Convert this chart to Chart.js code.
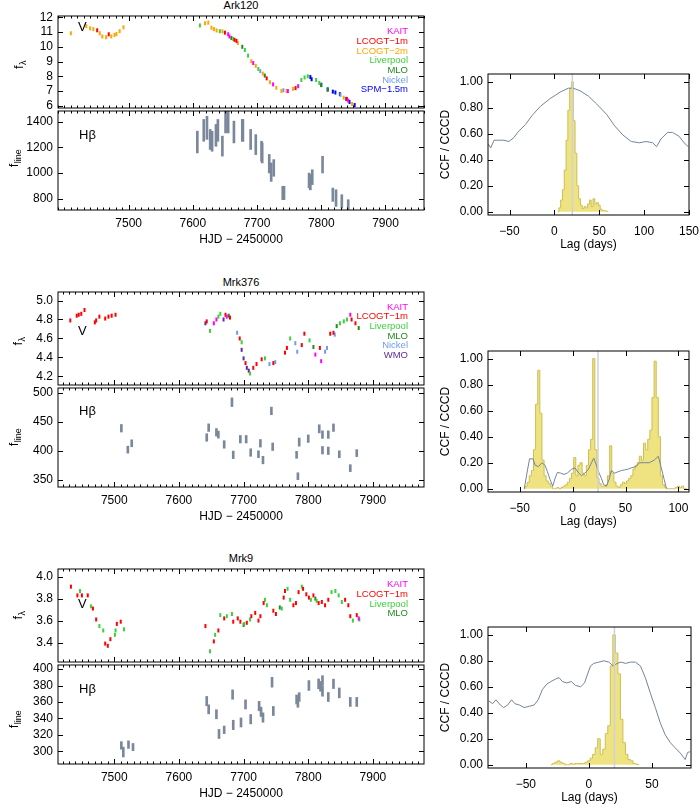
<!DOCTYPE html>
<html>
<head>
<meta charset="utf-8">
<script src="https://cdn.jsdelivr.net/npm/chart.js@4.4.0/dist/chart.umd.min.js"></script>
<style>
  body { margin: 0; background: #fff; width: 700px; height: 806px; position: relative; overflow: hidden;
         font-family: "Liberation Sans", Arial, Helvetica, sans-serif; }
  canvas { position: absolute; }
  .ttl { position: absolute; font-size: 11px; line-height: 1; transform: translate(-50%, -50%); white-space: nowrap; }
</style>
</head>
<body>
<div class="ttl" style="left:241px;top:5px">Ark120</div>
<div class="ttl" style="left:241px;top:282px">Mrk376</div>
<div class="ttl" style="left:241px;top:558px">Mrk9</div>
<canvas id="lc1"></canvas><canvas id="hb1"></canvas><canvas id="ccf1"></canvas>
<canvas id="lc2"></canvas><canvas id="hb2"></canvas><canvas id="ccf2"></canvas>
<canvas id="lc3"></canvas><canvas id="hb3"></canvas><canvas id="ccf3"></canvas>
<script>
// ---- Ark120 V-band continuum, [HJD-2450000, flux] per telescope
const ark120Kait = [[7655,10.85],[7657,10.70],[7694,8.90],[7725,7.45],[7748,7.00],[7764,7.33],[7842,6.35]];
const ark120Lcogt1 = [[7451,11.12],[7469,10.85],[7650,10.96],[7665,10.47],[7668,10.40],[7715,7.86],[7760,7.20],[7840,6.45]];
const ark120Lcogt2 = [[7410,10.92],[7434,11.40],[7440,11.25],[7445,11.20],[7455,10.92],[7459,10.70],[7465,10.65],[7473,10.70],
  [7478,10.80],[7481,10.87],[7486,11.06],[7492,11.32],[7619,11.60],[7624,11.64],[7629,11.30],[7633,11.20],[7637,11.11],
  [7646,11.05],[7670,10.25],[7691,9.03],[7698,8.71],[7709,8.18],[7720,7.60],[7730,7.22],[7738,7.01],[7746,7.00],[7756,7.15],
  [7835,6.55],[7848,6.12]];
const ark120Liverpool = [[7611,11.45],[7642,11.06],[7663,10.53],[7681,9.78],[7686,9.40],[7702,8.50],[7769,7.75],[7774,7.92],
  [7779,8.00],[7792,7.75],[7797,7.55]];
const ark120Mlo = [[7660,10.60],[7677,10.00],[7712,8.05],[7800,7.40],[7810,7.10]];
const ark120Nickel = [[7705,8.35],[7741,7.05],[7830,6.75]];
const ark120Spm = [[7783,7.95],[7785,7.80],[7800,7.43],[7810,7.11],[7818,6.96],[7822,6.90],[7829,6.79],[7839,6.47],[7844,6.26],[7852,6.05]];
// Hbeta line flux, [HJD-2450000, flux, error]
const ark120Hb = [[7607,1242,85],[7617,1333,85],[7622,1353,90],[7627,1262,78],[7630,1248,78],[7636,1294,85],[7639,1333,85],
  [7646,1210,78],[7651,1398,85],[7655,1398,85],[7664,1320,85],[7677,1333,85],[7678,1333,85],[7690,1262,78],[7698,1222,78],
  [7707,1170,78],[7708,1157,78],[7719,1073,72],[7722,1007,72],[7726,1040,65],[7740,845,52],[7742,845,52],[7781,942,58],
  [7783,929,60],[7786,968,58],[7802,1066,65],[7818,831,52],[7823,805,65],[7832,779,52],[7842,746,46]];
const ark120Lag = [-73.5,-71,-67.3,-61.8,-56.2,-50.7,-45.2,-39.7,-32.3,-24.9,-15.7,-4.7,6.4,15.6,21.1,28.5,37.7,46.9,58,
  67.2,76.3,85.6,94.8,102.2,109.5,113.9,118.8,126.1,131.6,139,144.5,149.3];
const ark120Ccf = [0.52,0.49,0.55,0.55,0.55,0.54,0.57,0.62,0.67,0.74,0.81,0.87,0.92,0.95,0.95,0.93,0.89,0.83,0.75,0.66,
  0.59,0.54,0.53,0.54,0.53,0.50,0.56,0.61,0.61,0.58,0.53,0.50];
const ark120Bins = [6,8,10,12,14,16,18,20,22,24,26,28,30,32,34,36,38,40,42,44,46,48,50,52,54,56,58];
const ark120Cccd = [0.03,0.09,0.17,0.32,0.55,0.78,0.95,1.00,0.70,0.45,0.20,0.10,0.05,0.025,0.04,0.03,0.06,0.09,0.04,0.10,
  0.06,0.07,0.05,0.02,0.01,0.008,0.005];
const ark120Median = 20;

// ---- Mrk376
const mrk376Kait = [[7654,4.76],[7658,4.80],[7674,4.83],[7811,4.43],[7820,4.36],[7865,4.85]];
const mrk376Lcogt1 = [[7432,4.79],[7442,4.84],[7445,4.85],[7449,4.86],[7454,4.90],[7470,4.77],[7472,4.79],[7477,4.83],
  [7486,4.81],[7491,4.83],[7496,4.84],[7502,4.85],[7643,4.78],[7672,4.85],[7679,4.82],[7694,4.60],[7703,4.34],[7715,4.29],
  [7720,4.33],[7728,4.38],[7746,4.34],[7764,4.45],[7767,4.50],[7790,4.53],[7794,4.65],[7818,4.50],[7834,4.65],[7839,4.66],
  [7867,4.80],[7873,4.76]];
const mrk376Liverpool = [[7648,4.68],[7661,4.83],[7664,4.86],[7697,4.56],[7710,4.23],[7733,4.39],[7772,4.60],[7802,4.58],
  [7849,4.76],[7855,4.78],[7860,4.80]];
const mrk376Mlo = [[7677,4.84],[7808,4.51],[7844,4.73],[7878,4.71]];
const mrk376Nickel = [[7690,4.66],[7740,4.33],[7749,4.35],[7780,4.55],[7783,4.46],[7826,4.46],[7829,4.50],[7841,4.64]];
const mrk376Wmo = [[7641,4.76],[7669,4.80],[7697,4.48],[7700,4.39],[7705,4.29],[7708,4.26]];
const mrk376Hb = [[7511,439,6.5],[7521,402,6],[7527,413,6],[7643,423,6.5],[7646,440,6.5],[7658,432,6.5],[7661,428,6],
  [7670,411,6.5],[7682,484,7.5],[7684,393,6.5],[7695,420,6.5],[7704,420,6.5],[7711,397,6.5],[7723,394,6],[7726,413,6.5],
  [7730,384,6.5],[7743,469,6.5],[7745,407,6.5],[7782,393,6],[7784,356,6],[7786,415,7],[7800,421,6.5],[7817,438,7],
  [7822,428,6.5],[7822,401,6.5],[7831,428,6.5],[7831,400,6.5],[7839,440,6.5],[7848,394,6],[7865,370,6],[7875,396,6]];
const mrk376Lag = [-45.7,-43.2,-40.7,-37.5,-35.4,-32.2,-29.1,-26,-23.8,-21.3,-18.8,-16.6,-14.4,-11.3,-8.2,-5.1,-0.9,2.2,
  5.3,8.4,11.5,14.7,17.8,20,22.5,25,27.2,29.4,31.9,34.4,36.6,39.7,42.8,46,49.1,52.2,55.3,60,63.1,67.8,72.5,77.2,81,83.5,86.6,88.7];
const mrk376Ccf = [0,0.12,0.23,0.23,0.18,0.17,0.20,0.18,0.13,0.07,0.02,0.08,0.125,0.12,0.11,0.12,0.15,0.16,0.125,0.10,
  0.12,0.145,0.20,0.235,0.18,0.12,0.08,0.03,0.02,0.07,0.14,0.12,0.13,0.14,0.145,0.15,0.16,0.17,0.20,0.20,0.20,0.22,0.25,0.17,0.07,0];
const mrk376Bins = [-44,-42,-40,-38,-36,-34,-32,-30,-28,-26,-24,-22,-20,-18,-16,-14,-12,-10,-8,-6,-4,-2,0,2,4,6,8,10,12,
  14,16,18,20,22,24,26,28,30,32,34,36,38,40,42,44,46,48,50,52,54,56,58,60,62,64,66,68,70,72,74,76,78,80,82,84,86,88,90,92,
  94,96,98,100,102,104,106];
const mrk376Cccd = [0.02,0.05,0.10,0.14,0.30,0.65,0.91,0.58,0.22,0.10,0.06,0.04,0.02,0,0,0.01,0,0.01,0.02,0.03,0.05,0.08,
  0.12,0.24,0.10,0.18,0.20,0.12,0.10,0.18,0.30,0.38,1.00,0.30,0.08,0.04,0.02,0.02,0.03,0.10,0.33,0.12,0.05,0.02,0.01,0.03,
  0.05,0.04,0.06,0.08,0.10,0.15,0.18,0.20,0.25,0.22,0.35,0.30,0.38,0.45,0.70,0.98,0.70,0.40,0.10,0.03,0.01,0,0,0,0,0.01,
  0.02,0.01,0.02,0];
const mrk376Median = 24;

// ---- Mrk9
const mrk9Kait = [[7878,3.62]];
const mrk9Lcogt1 = [[7433,3.91],[7443,3.83],[7450,3.83],[7459,3.83],[7467,3.71],[7472,3.61],[7486,3.39],[7490,3.37],
  [7494,3.43],[7504,3.57],[7510,3.59],[7641,3.55],[7654,3.41],[7661,3.51],[7670,3.62],[7684,3.59],[7691,3.62],[7695,3.59],
  [7705,3.58],[7712,3.64],[7718,3.67],[7723,3.60],[7726,3.64],[7731,3.76],[7746,3.69],[7750,3.66],[7762,3.81],[7764,3.87],
  [7777,3.74],[7781,3.76],[7785,3.86],[7792,3.89],[7797,3.84],[7801,3.81],[7808,3.83],[7816,3.76],[7821,3.77],[7826,3.74],
  [7831,3.79],[7857,3.79],[7862,3.74],[7865,3.64],[7875,3.65]];
const mrk9Liverpool = [[7447,3.87],[7464,3.73],[7477,3.55],[7483,3.51],[7501,3.47],[7502,3.51],[7515,3.52],[7648,3.32],
  [7656,3.47],[7664,3.65],[7674,3.64],[7682,3.66],[7701,3.57],[7710,3.61],[7733,3.79],[7736,3.74],[7759,3.71],[7768,3.89],
  [7772,3.79],[7790,3.91],[7804,3.79],[7813,3.78],[7836,3.86],[7842,3.87],[7847,3.83],[7852,3.77],[7869,3.60],[7879,3.61]];
const mrk9Mlo = [[7700,3.56],[7756,3.72],[7811,3.80]];
const mrk9Hb = [[7511,307,4.6],[7514,299,6],[7522,308,4.6],[7529,305,4.4],[7643,361,5.7],[7646,351,5.5],[7658,345,5.5],
  [7662,321,5.5],[7670,326,4.6],[7683,369,5.7],[7684,332,5.7],[7696,335,5.5],[7703,357,5.5],[7711,339,5.7],[7724,355,5.7],
  [7727,348,5.7],[7730,341,5.7],[7744,384,6],[7746,349,5.5],[7782,363,5.5],[7784,359,5.5],[7786,366,5.3],[7801,380,6],
  [7816,382,6],[7819,379,6],[7822,386,6],[7822,373,6],[7831,366,5.5],[7839,382,5.7],[7848,371,6],[7865,360,5.5],[7875,360,5.5]];
const mrk9Lag = [-79.4,-76.3,-73.7,-70.2,-67.6,-64.4,-61.3,-58.7,-55.2,-51.3,-47.3,-43.4,-40.2,-36.8,-33.4,-30.2,-26.3,
  -23.6,-21,-17.6,-13.9,-10.5,-6.5,-3.4,-1.3,1.3,3.9,7.9,11.9,15.8,19.3,22.4,25.6,29,33,36.9,40.9,44.8,48.8,52.7,56.7,60.6,
  64.6,68.5,72.5,76.4,78.3,80.3];
const mrk9Ccf = [0.49,0.47,0.50,0.46,0.44,0.46,0.50,0.47,0.46,0.44,0.45,0.46,0.50,0.58,0.62,0.64,0.66,0.67,0.64,0.63,0.64,
  0.61,0.60,0.63,0.69,0.76,0.78,0.79,0.80,0.79,0.76,0.78,0.79,0.78,0.79,0.79,0.76,0.67,0.55,0.44,0.32,0.23,0.17,0.13,0.09,
  0.04,0.095,0.10];
const mrk9Bins = [-28,-26,-24,-22,-20,-18,-16,-14,-12,-10,-8,-6,-4,-2,0,2,4,6,8,10,12,14,16,18,20,22,24,26,28,30,32,34,36,38];
const mrk9Cccd = [0.01,0.02,0.03,0.02,0.01,0,0,0.01,0.005,0.01,0.01,0.01,0.01,0.02,0.03,0.05,0.08,0.13,0.20,0.08,0.12,
  0.24,0.30,0.76,1.00,0.86,0.70,0.35,0.17,0.08,0.04,0.03,0.01,0.005];
const mrk9Median = 20.3;

// telescope colours
const COL = { KAIT: '#ff00ff', LCOGT1: '#ff0000', LCOGT2: '#ffa500', Liverpool: '#3cd03c', MLO: '#1e8c1e',
  Nickel: '#6e9cf0', SPM: '#0000ff', WMO: '#5c2d9e' };
const HB_COL = '#7b889b';
const CCF_COL = '#74849b';

Chart.defaults.font.family = '"Liberation Sans", Arial, Helvetica, sans-serif';
Chart.defaults.font.size = 12;
Chart.defaults.color = '#000';
Chart.defaults.animation = false;
Chart.defaults.events = [];
Chart.defaults.plugins.legend.display = false;
Chart.defaults.plugins.tooltip.enabled = false;

// box frame, inward ticks on all sides, in-panel labels
const decorPlugin = {
  id: 'decor',
  afterDatasetsDraw(chart, args, o) {
    const { ctx, chartArea: a, scales: { x, y } } = chart;
    ctx.save();
    ctx.strokeStyle = '#000';
    ctx.lineWidth = 1;
    ctx.strokeRect(a.left, a.top, a.right - a.left, a.bottom - a.top);
    ctx.beginPath();
    const xt = (v, len) => {
      const p = Math.round(x.getPixelForValue(v)) + 0.5;
      ctx.moveTo(p, a.bottom); ctx.lineTo(p, a.bottom - len);
      ctx.moveTo(p, a.top); ctx.lineTo(p, a.top + len);
    };
    const yt = (v, len) => {
      const p = Math.round(y.getPixelForValue(v)) + 0.5;
      ctx.moveTo(a.left, p); ctx.lineTo(a.left + len, p);
      ctx.moveTo(a.right, p); ctx.lineTo(a.right - len, p);
    };
    x.ticks.forEach(t => xt(t.value, 5));
    y.ticks.forEach(t => yt(t.value, 5));
    if (o.xMinor) {
      for (let v = Math.ceil(x.min / o.xMinor) * o.xMinor; v <= x.max; v += o.xMinor) xt(v, 2.5);
    }
    ctx.stroke();
    (o.texts || []).forEach(t => {
      ctx.font = (t.size || 12) + 'px "Liberation Sans", Arial, sans-serif';
      ctx.fillStyle = t.color || '#000';
      ctx.textAlign = t.right ? 'right' : 'left';
      ctx.textBaseline = 'middle';
      ctx.fillText(t.text, t.right ? a.right - t.dx : a.left + t.dx, a.top + t.dy);
    });
    if (o.ylab) {
      const cy = (a.top + a.bottom) / 2 + (o.ylab.dy || 0);
      ctx.translate(o.ylab.x, cy);
      ctx.rotate(-Math.PI / 2);
      ctx.fillStyle = '#000';
      ctx.textAlign = 'left';
      ctx.textBaseline = 'alphabetic';
      ctx.font = '13px "Liberation Sans", Arial, sans-serif';
      const w1 = ctx.measureText('f').width;
      ctx.font = '9px "Liberation Sans", Arial, sans-serif';
      const w2 = ctx.measureText(o.ylab.sub).width;
      const x0 = -(w1 + w2) / 2;
      ctx.font = '13px "Liberation Sans", Arial, sans-serif';
      ctx.fillText('f', x0, 0);
      ctx.font = '9px "Liberation Sans", Arial, sans-serif';
      ctx.fillText(o.ylab.sub, x0 + w1 + 0.5, 3);
    }
    ctx.restore();
  }
};

const minusFmt = v => (v < 0 ? '\u2212' + (-v) : String(v));

function axis(o) {
  return {
    type: 'linear', min: o.min, max: o.max, offset: false,
    grid: { display: false, drawTicks: false, offset: false },
    border: { display: false },
    ticks: { display: o.labels !== false, stepSize: o.step, autoSkip: false,
      maxRotation: 0, padding: o.pad || 0, callback: o.fmt || (v => String(v)) },
    title: { display: !!o.title, text: o.title || '', padding: 0, font: { size: 12 } },
    // major ticks: multiples of the step inside the range
    afterBuildTicks: s => {
      const out = [];
      const n0 = Math.ceil(o.min / o.step - 1e-6), n1 = Math.floor(o.max / o.step + 1e-6);
      for (let n = n0; n <= n1; n++) {
        const v = +(n * o.step).toFixed(6);
        if (!o.keep || o.keep(v)) out.push({ value: v });
      }
      s.ticks = out;
    },
    afterFit: s => {
      if (s.isHorizontal()) s.height = o.size; else s.width = o.size;
      s.paddingLeft = s.paddingRight = s.paddingTop = s.paddingBottom = 0;
    }
  };
}

function panel(id, plot, ext, datasets, scales, decor) {
  const c = document.getElementById(id);
  c.width = plot.r - plot.l + ext.l + ext.r;
  c.height = plot.b - plot.t + ext.t + ext.b;
  c.style.left = (plot.l - ext.l) + 'px';
  c.style.top = (plot.t - ext.t) + 'px';
  return new Chart(c, {
    type: 'scatter',
    data: { datasets },
    options: {
      responsive: false, devicePixelRatio: 1,
      layout: { padding: { top: ext.t, right: ext.r, left: 0, bottom: 0 } },
      scales, plugins: { decor }
    },
    plugins: [decorPlugin]
  });
}

const pts = (arr, color) => ({
  data: arr.map(p => ({ x: p[0], y: p[1] })),
  pointStyle: 'line', rotation: 90, radius: 2, borderWidth: 2,
  borderColor: color, backgroundColor: color
});
const bars = arr => ({
  type: 'bar',
  data: arr.map(p => ({ x: p[0], y: [p[1] - p[2], p[1] + p[2]] })),
  backgroundColor: HB_COL, borderWidth: 0, barThickness: 2
});
function ccfSets(lag, ccf, bins, cccd, median) {
  const step = bins[1] - bins[0];
  const hist = [{ x: bins[0] - step, y: 0 }]
    .concat(bins.map((b, i) => ({ x: b, y: cccd[i] })))
    .concat([{ x: bins[bins.length - 1] + step, y: 0 }]);
  return [
    { type: 'line', data: [{ x: median, y: -0.03 }, { x: median, y: 1.07 }],
      borderColor: '#cdd2dc', borderWidth: 1.5, pointRadius: 0 },
    { type: 'line', data: lag.map((l, i) => ({ x: l, y: ccf[i] })),
      borderColor: CCF_COL, borderWidth: 1, pointRadius: 0, tension: 0 },
    { type: 'line', data: hist, stepped: 'middle', fill: 'origin',
      backgroundColor: 'rgb(238,227,128)', borderColor: 'rgb(205,190,85)', borderWidth: 1, pointRadius: 0 }
  ];
}
const legend = (names, dy0) => names.map((n, i) => ({ text: n[0], color: n[1], right: true, dx: 16, dy: dy0 + i * 9.7, size: 9.5 }));

const LC_EXT = { l: 58, t: 4, r: 16, b: 3 };
const HB_EXT = { l: 58, t: 3, r: 16, b: 37 };
const f1 = v => v.toFixed(1);
const f2 = v => v.toFixed(2);

// ---------------- row 1: Ark120
const ark120X = { min: 7390, max: 7960, keep: v => v > 7450 };
panel('lc1', { l: 58, t: 14, r: 424, b: 111 }, LC_EXT,
  [pts(ark120Kait, COL.KAIT), pts(ark120Lcogt1, COL.LCOGT1), pts(ark120Lcogt2, COL.LCOGT2), pts(ark120Liverpool, COL.Liverpool),
   pts(ark120Mlo, COL.MLO), pts(ark120Nickel, COL.Nickel), pts(ark120Spm, COL.SPM)],
  { x: axis({ ...ark120X, step: 100, labels: false, size: 3 }),
    y: axis({ min: 5.85, max: 12.09, step: 1, pad: 5, size: 58 }) },
  { xMinor: 10, ylab: { x: 23, sub: '\u03bb', dy: 3 },
    texts: [{ text: 'V', dx: 20, dy: 11, size: 13 }].concat(legend([['KAIT', COL.KAIT], ['LCOGT\u22121m', COL.LCOGT1],
      ['LCOGT\u22122m', COL.LCOGT2], ['Liverpool', COL.Liverpool], ['MLO', COL.MLO], ['Nickel', COL.Nickel],
      ['SPM\u22121.5m', COL.SPM]], 15.5)) });
panel('hb1', { l: 58, t: 111, r: 424, b: 210 }, HB_EXT, [bars(ark120Hb)],
  { x: axis({ ...ark120X, step: 100, pad: 6, size: 37, title: 'HJD \u2212 2450000' }),
    y: axis({ min: 712, max: 1484, step: 200, pad: 5, size: 58 }) },
  { xMinor: 10, ylab: { x: 18, sub: 'line', dy: -2 }, texts: [{ text: 'H\u03b2', dx: 21, dy: 24, size: 13 }] });
panel('ccf1', { l: 488, t: 74, r: 689, b: 215 }, { l: 50, t: 4, r: 11, b: 37 },
  ccfSets(ark120Lag, ark120Ccf, ark120Bins, ark120Cccd, ark120Median),
  { x: axis({ min: -74, max: 150, step: 50, pad: 9, size: 37, title: 'Lag (days)', fmt: minusFmt }),
    y: axis({ min: -0.025, max: 1.059, step: 0.2, pad: 5, size: 50, fmt: f2, title: 'CCF / CCCD' }) }, {});

// ---------------- row 2: Mrk376
panel('lc2', { l: 58, t: 290, r: 424, b: 388 }, LC_EXT,
  [pts(mrk376Kait, COL.KAIT), pts(mrk376Lcogt1, COL.LCOGT1), pts(mrk376Liverpool, COL.Liverpool), pts(mrk376Mlo, COL.MLO),
   pts(mrk376Nickel, COL.Nickel), pts(mrk376Wmo, COL.WMO)],
  { x: axis({ min: 7413, max: 7979, step: 100, labels: false, size: 3 }),
    y: axis({ min: 4.109, max: 5.09, step: 0.2, pad: 5, size: 58, fmt: f1 }) },
  { xMinor: 10, ylab: { x: 22, sub: '\u03bb', dy: 3 },
    texts: [{ text: 'V', dx: 20, dy: 39, size: 13 }].concat(legend([['KAIT', COL.KAIT], ['LCOGT\u22121m', COL.LCOGT1],
      ['Liverpool', COL.Liverpool], ['MLO', COL.MLO], ['Nickel', COL.Nickel], ['WMO', COL.WMO]], 15)) });
panel('hb2', { l: 58, t: 388, r: 424, b: 487 }, HB_EXT, [bars(mrk376Hb)],
  { x: axis({ min: 7413, max: 7979, step: 100, pad: 6, size: 37, title: 'HJD \u2212 2450000' }),
    y: axis({ min: 337.4, max: 508.6, step: 50, pad: 5, size: 58 }) },
  { xMinor: 10, ylab: { x: 18, sub: 'line', dy: 0 }, texts: [{ text: 'H\u03b2', dx: 21, dy: 23, size: 13 }] });
panel('ccf2', { l: 488, t: 351, r: 689, b: 492 }, { l: 50, t: 4, r: 11, b: 37 },
  ccfSets(mrk376Lag, mrk376Ccf, mrk376Bins, mrk376Cccd, mrk376Median),
  { x: axis({ min: -80, max: 110, step: 50, pad: 9, size: 37, title: 'Lag (days)', fmt: minusFmt }),
    y: axis({ min: -0.025, max: 1.058, step: 0.2, pad: 5, size: 50, fmt: f2, title: 'CCF / CCCD' }) }, {});

// ---------------- row 3: Mrk9
panel('lc3', { l: 58, t: 567, r: 424, b: 665 }, LC_EXT,
  [pts(mrk9Kait, COL.KAIT), pts(mrk9Lcogt1, COL.LCOGT1), pts(mrk9Liverpool, COL.Liverpool), pts(mrk9Mlo, COL.MLO)],
  { x: axis({ min: 7413, max: 7979, step: 100, labels: false, size: 3 }),
    y: axis({ min: 3.222, max: 4.071, step: 0.2, pad: 5, size: 58, fmt: f1 }) },
  { xMinor: 10, ylab: { x: 22, sub: '\u03bb', dy: 0 },
    texts: [{ text: 'V', dx: 20, dy: 35, size: 13 }].concat(legend([['KAIT', COL.KAIT], ['LCOGT\u22121m', COL.LCOGT1],
      ['Liverpool', COL.Liverpool], ['MLO', COL.MLO]], 15.5)) });
panel('hb3', { l: 58, t: 665, r: 424, b: 764 }, HB_EXT, [bars(mrk9Hb)],
  { x: axis({ min: 7413, max: 7979, step: 100, pad: 6, size: 37, title: 'HJD \u2212 2450000' }),
    y: axis({ min: 284.4, max: 405, step: 20, pad: 5, size: 58 }) },
  { xMinor: 10, ylab: { x: 18, sub: 'line', dy: 5 }, texts: [{ text: 'H\u03b2', dx: 21, dy: 24, size: 13 }] });
panel('ccf3', { l: 488, t: 627, r: 691, b: 768 }, { l: 50, t: 4, r: 9, b: 37 },
  ccfSets(mrk9Lag, mrk9Ccf, mrk9Bins, mrk9Cccd, mrk9Median),
  { x: axis({ min: -80, max: 81, step: 50, pad: 9, size: 37, title: 'Lag (days)', fmt: minusFmt }),
    y: axis({ min: -0.025, max: 1.06, step: 0.2, pad: 5, size: 50, fmt: f2, title: 'CCF / CCCD' }) }, {});
</script>
</body>
</html>
